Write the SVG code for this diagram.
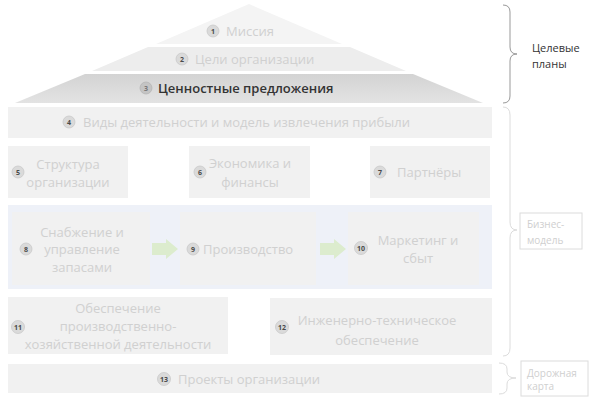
<svg xmlns="http://www.w3.org/2000/svg" width="591" height="401" viewBox="0 0 591 401">
<defs>
<linearGradient id="g3" x1="0" y1="0" x2="0" y2="1">
<stop offset="0" stop-color="#d3d3d3"/>
<stop offset="1" stop-color="#e3e3e3"/>
</linearGradient>
<style>
text{font-family:"Open Sans","Noto Sans","DejaVu Sans",sans-serif;}
.box{fill:#f1f1f1;}
.t{font-size:13px;fill:#d0d0d0;text-anchor:middle;dominant-baseline:central;}
.tl{font-size:13px;fill:#d0d0d0;text-anchor:start;dominant-baseline:central;}
.c{fill:#dadada;stroke:#c9c9c9;stroke-width:0.8;}
.n{font-size:7px;font-weight:bold;fill:#4a4a4a;text-anchor:middle;dominant-baseline:central;}
.arr{fill:#dcecce;}
.brace{fill:none;stroke-width:1;}
.lbl{font-size:10px;fill:#cfcfcf;dominant-baseline:central;}
</style>
</defs>
<rect width="591" height="401" fill="#ffffff"/>

<g id="node1">
<polygon points="249,4 342,44 156,44" fill="#f4f4f4"/>
<circle class="c" cx="213" cy="31" r="6"/><text class="n" x="213" y="31">1</text>
<text class="tl" x="226" y="31" fill="#d8d8d8">Миссия</text>
</g>
<g id="node2">
<polygon points="148,47 350,47 406,71 92,71" fill="#ededed"/>
<circle class="c" cx="182" cy="59" r="6"/><text class="n" x="182" y="59">2</text>
<text class="tl" x="195" y="59">Цели организации</text>
</g>
<g id="node3">
<polygon points="85,74 413,74 483,103 15,103" fill="url(#g3)"/>
<circle class="c" cx="146" cy="88" r="6" style="fill:#c4c4c4;stroke:#b5b5b5"/><text class="n" x="146" y="88" style="fill:#777">3</text>
<text class="tl" x="158" y="88" style="fill:#333;font-weight:600;font-size:13px">Ценностные предложения</text>
</g>

<g id="node4">
<rect class="box" x="8" y="107" width="484" height="31"/>
<circle class="c" cx="69" cy="122" r="6"/><text class="n" x="69" y="122">4</text>
<text class="tl" x="83" y="122">Виды деятельности и модель извлечения прибыли</text>
</g>

<g id="node5">
<rect class="box" x="8" y="146" width="120" height="52"/>
<circle class="c" cx="18" cy="172" r="6"/><text class="n" x="18" y="172">5</text>
<text class="t" x="68" y="164">Структура</text>
<text class="t" x="68" y="182">организации</text>
</g>
<g id="node6">
<rect class="box" x="189" y="146" width="121" height="52"/>
<circle class="c" cx="200" cy="172" r="6"/><text class="n" x="200" y="172">6</text>
<text class="t" x="250" y="163">Экономика и</text>
<text class="t" x="250" y="182">финансы</text>
</g>
<g id="node7">
<rect class="box" x="370" y="146" width="120" height="52"/>
<circle class="c" cx="380" cy="172" r="6"/><text class="n" x="380" y="172">7</text>
<text class="tl" x="397" y="172">Партнёры</text>
</g>

<g id="band">
<rect x="8" y="205" width="484" height="84" fill="#eef1f8"/>
</g>
<g id="node8">
<rect class="box" x="12" y="212" width="138" height="73"/>
<circle class="c" cx="26" cy="249" r="6"/><text class="n" x="26" y="249">8</text>
<text class="t" x="82" y="232">Снабжение и</text>
<text class="t" x="82" y="249">управление</text>
<text class="t" x="82" y="267">запасами</text>
</g>
<g id="node9">
<rect class="box" x="180" y="212" width="136" height="73"/>
<circle class="c" cx="193" cy="249" r="6"/><text class="n" x="193" y="249">9</text>
<text class="tl" x="203" y="249">Производство</text>
</g>
<g id="node10">
<rect class="box" x="348" y="212" width="131" height="73"/>
<circle class="c" cx="361" cy="248" r="6.5"/><text class="n" x="361" y="248">10</text>
<text class="t" x="418" y="240">Маркетинг и</text>
<text class="t" x="418" y="258">сбыт</text>
</g>

<g id="connectors">
<polygon class="arr" points="152,243 166,243 166,239 178,249 166,259 166,255 152,255"/>
<polygon class="arr" points="320,243 334,243 334,239 346,249 334,259 334,255 320,255"/>
</g>

<g id="node11">
<rect class="box" x="8" y="297" width="220" height="57"/>
<circle class="c" cx="18" cy="327" r="6.5"/><text class="n" x="18" y="327">11</text>
<text class="t" x="118" y="308">Обеспечение</text>
<text class="t" x="118" y="326">производственно-</text>
<text class="t" x="118" y="344">хозяйственной деятельности</text>
</g>
<g id="node12">
<rect class="box" x="270" y="298" width="222" height="57"/>
<circle class="c" cx="282" cy="327" r="6.5"/><text class="n" x="282" y="327">12</text>
<text class="t" x="377" y="320">Инженерно-техническое</text>
<text class="t" x="377" y="340">обеспечение</text>
</g>
<g id="node13">
<rect class="box" x="8" y="364" width="484" height="29"/>
<circle class="c" cx="164" cy="379" r="6.5"/><text class="n" x="164" y="379">13</text>
<text class="tl" x="178" y="379">Проекты организации</text>
</g>

<g id="brace1">
<path class="brace" stroke="#999999" d="M503,5 Q510,5 510,12 L510,47 Q510,54 517,54 Q510,54 510,61 L510,96 Q510,103 503,103"/>
<text x="532" y="47" style="font-size:11px;fill:#333;dominant-baseline:central">Целевые</text>
<text x="532" y="63" style="font-size:11px;fill:#333;dominant-baseline:central">планы</text>
</g>
<g id="brace2">
<path class="brace" stroke="#dcdcdc" d="M503,107 Q510,107 510,115 L510,222 Q510,230 517,230 Q510,230 510,238 L510,348 Q510,356 503,356"/>
<rect x="520" y="213" width="62" height="36" fill="#fff" stroke="#dcdcdc" stroke-width="1"/>
<text class="lbl" x="527" y="224">Бизнес-</text>
<text class="lbl" x="527" y="240">модель</text>
</g>
<g id="brace3">
<path class="brace" stroke="#dcdcdc" d="M499,363 Q507,363 507,369 L507,372 Q507,378 516,378 Q507,378 507,384 L507,388 Q507,394 499,394"/>
<rect x="521" y="361" width="67" height="35" fill="#fff" stroke="#dcdcdc" stroke-width="1"/>
<text class="lbl" x="527" y="373">Дорожная</text>
<text class="lbl" x="527" y="386">карта</text>
</g>
</svg>
